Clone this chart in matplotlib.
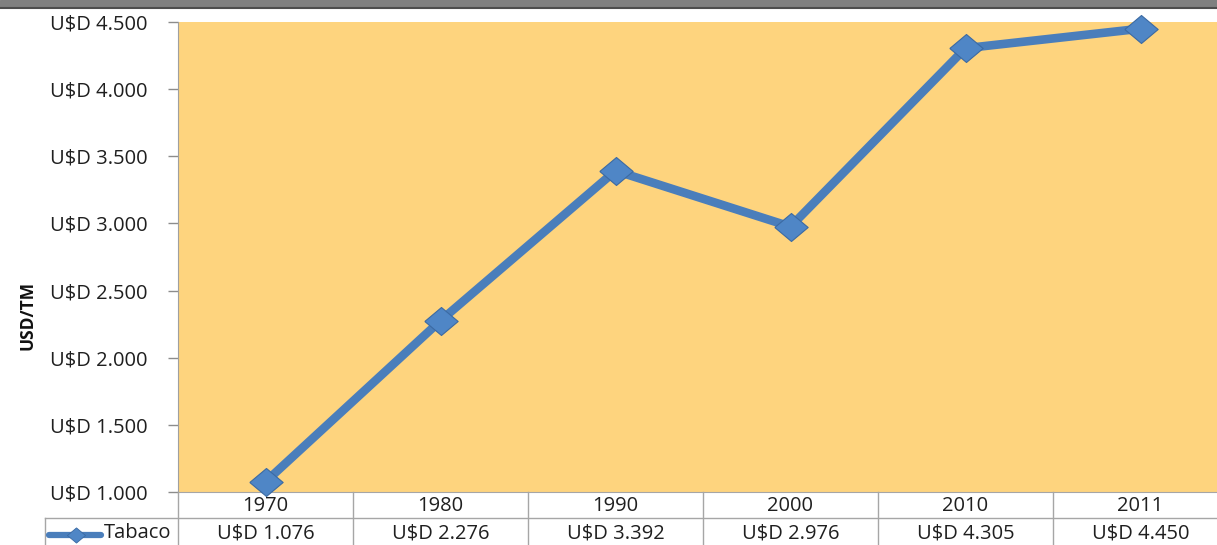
import matplotlib
matplotlib.use("Agg")
import matplotlib.pyplot as plt
from matplotlib.transforms import blended_transform_factory
from matplotlib.lines import Line2D
from matplotlib.patches import Rectangle
from matplotlib.ticker import FuncFormatter

years = ["1970", "1980", "1990", "2000", "2010", "2011"]
values = [1076, 2276, 3392, 2976, 4305, 4450]
series_name = "Tabaco"
y_label = "USD/TM"
y_ticks = [1000, 1500, 2000, 2500, 3000, 3500, 4000, 4500]

W, H = 1217, 545
fig = plt.figure(figsize=(W / 100, H / 100), dpi=100)
plt.rcParams['font.family'] = ['Open Sans', 'DejaVu Sans']

def fx(px):
    return px / W

def fy(py):
    return 1 - py / H

ax = fig.add_axes([fx(178), fy(492), fx(1228) - fx(178), fy(22) - fy(492)])
ax.set_facecolor("#FED47E")

def fmt(v, pos=None):
    s = f"{int(round(v)):,}".replace(",", ".")
    return f"U$D {s}"

fs = 14.5
line_color = "#4A7EBB"
diamond = [(-1, 0), (0, 0.84), (1, 0), (0, -0.84), (-1, 0)]
x = list(range(len(years)))
ax.plot(x, values, color=line_color, lw=6.2, solid_capstyle="butt", zorder=3,
        marker=diamond, markersize=24, markerfacecolor="#4F86C6",
        markeredgecolor="#3B6AA3", markeredgewidth=0.8, clip_on=False)

ax.set_xlim(-0.5, 5.5)
ax.set_ylim(1000, 4500)
ax.set_yticks(y_ticks)
ax.yaxis.set_major_formatter(FuncFormatter(fmt))
ax.tick_params(axis="y", length=7, width=1, color="#8C8C8C", labelsize=fs,
               labelcolor="#1F1F1F", pad=15)
ax.set_xticks([])
for s in ["top", "right"]:
    ax.spines[s].set_visible(False)
ax.spines["left"].set_color("#A0A0A0")
ax.spines["bottom"].set_color("#A6A6A6")

fig.text(fx(28), fy(315), y_label, rotation=90, ha="center", va="center",
         fontsize=12.5, fontweight="bold", color="#111111")

# table
grid_c = "#A6A6A6"
bt = blended_transform_factory(ax.transData, fig.transFigure)
for i in range(len(years) + 1):
    fig.add_artist(Line2D([i - 0.5, i - 0.5], [fy(492), fy(545)], transform=bt,
                          color=grid_c, lw=1))
fig.add_artist(Line2D([fx(45), 1], [fy(518), fy(518)], transform=fig.transFigure,
                      color=grid_c, lw=1))
fig.add_artist(Line2D([fx(45), fx(45)], [fy(518), fy(545)], transform=fig.transFigure,
                      color=grid_c, lw=1))
for i, (yr, v) in enumerate(zip(years, values)):
    fig.text(i, fy(506), yr, transform=bt, ha="center", va="center",
             fontsize=fs, color="#1F1F1F")
    fig.text(i, fy(533), fmt(v), transform=bt, ha="center", va="center",
             fontsize=fs, color="#1F1F1F")

# legend key in table
fig.add_artist(Line2D([fx(49), fx(101)], [fy(535), fy(535)], transform=fig.transFigure,
                      color=line_color, lw=4.5, solid_capstyle="round"))
fig.add_artist(Line2D([fx(76)], [fy(535)], transform=fig.transFigure, marker=diamond,
                      markersize=13, markerfacecolor="#4F86C6",
                      markeredgecolor="#3B6AA3", markeredgewidth=0.6, color=line_color))
fig.text(fx(104), fy(533), series_name, ha="left", va="center", fontsize=fs,
         color="#1F1F1F")

# top gray bar
fig.add_artist(Rectangle((0, fy(7)), 1, 1 - fy(7), transform=fig.transFigure,
                         color="#808080", zorder=0))
fig.add_artist(Line2D([0, 1], [fy(8), fy(8)], transform=fig.transFigure,
                      color="#4D4D4D", lw=1.5))

fig.savefig("out.png", dpi=100)
